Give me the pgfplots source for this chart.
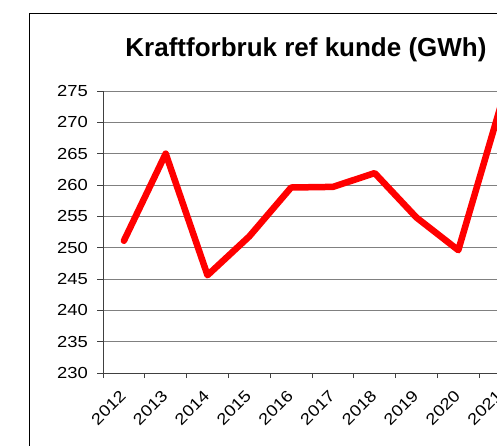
\documentclass[border=0pt]{standalone}
\usepackage{fontspec}
\setmainfont{Liberation Sans}
\usepackage{graphicx}
\usepackage{pgfplots}
\pgfplotsset{compat=1.18}
\begin{document}
\begin{tikzpicture}[x=1pt,y=1pt]
\useasboundingbox (0,0) rectangle (497,445);
\clip (0,0) rectangle (497,445);
\fill[white] (0,0) rectangle (497,445);
\draw[black, line width=1pt] (29.5,431) rectangle (700,-50);
\node[font=\fontsize{26}{30}\selectfont\bfseries, anchor=base, inner sep=0pt] at (306,388) {Kraftforbruk ref kunde (GWh)};
\begin{axis}[
  at={(103pt,72pt)}, anchor=south west,
  scale only axis, width=418pt, height=282pt,
  xmin=-0.5, xmax=9.5, ymin=230, ymax=275,
  ytick={230,235,...,275},
  xtick={0,...,9},
  xticklabel={\scalebox{1.15}[1]{\pgfmathtruncatemacro\yr{2012+\tick}\yr}},
  yticklabel={\scalebox{1.15}[1]{\pgfmathprintnumber{\tick}}},
  minor xtick={-0.5,0.5,...,9.5},
  tick align=outside,
  major tick length=6pt, minor tick length=5pt,
  every major x tick/.append style={draw=none},
  axis lines*=left,
  axis line style={-, line width=1pt, black!75},
  tick style={line width=0.8pt, black!75},
  ymajorgrids,
  major grid style={line width=1pt, black!50},
  /pgf/number format/assume math mode=true,
  ticklabel style={font=\fontsize{16}{18}\selectfont},
  xticklabel style={xshift=-5pt, yshift=-10pt, rotate=45, anchor=north east, inner sep=0pt},
  yticklabel style={anchor=east, inner sep=0pt, xshift=-9pt},
  clip=false,
]
\addplot[red, line width=6.5pt, line join=round, line cap=round] coordinates {
(0,251.1) (1,265.0) (2,245.6) (3,251.8) (4,259.6) (5,259.7) (6,261.9) (7,254.8) (8,249.6) (9,272.3)
};
\end{axis}
\end{tikzpicture}
\end{document}
